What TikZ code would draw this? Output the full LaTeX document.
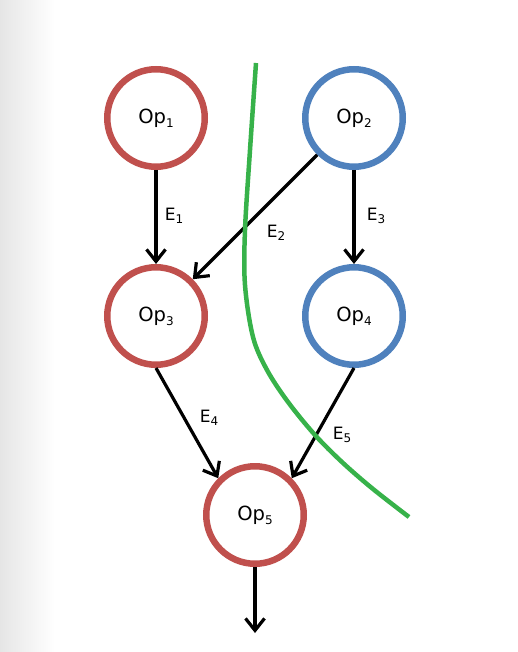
\documentclass[tikz,border=0pt]{standalone}
\usepackage{fontspec}
\setmainfont{DejaVu Sans}
\usetikzlibrary{arrows.meta}
\definecolor{opred}{RGB}{192,80,77}
\definecolor{opblue}{RGB}{79,129,189}
\definecolor{cutgreen}{RGB}{55,178,74}
\newcommand\sbs[1]{\raisebox{-0.2em}{\fontsize{12}{12}\selectfont #1}}
\begin{document}
\begin{tikzpicture}[x=1pt,y=-1pt,
  op/.style={circle, draw, line width=6.5pt, minimum size=97.5pt, inner sep=0pt, font=\fontsize{19.5}{22}\selectfont},
  redop/.style={op, draw=opred},
  blueop/.style={op, draw=opblue},
  edge/.style={line width=3.2pt, -{Straight Barb[length=12pt,width=19pt]}},
  lbl/.style={font=\fontsize{17}{20}\selectfont, inner sep=0pt}]
\useasboundingbox (0,0) rectangle (518,652);
\shade[left color=black!10, right color=white] (0,0) rectangle (55,652);
\node[redop]  (op1) at (156,118) {Op\sbs{1}};
\node[blueop] (op2) at (354,118) {Op\sbs{2}};
\node[redop]  (op3) at (156,316) {Op\sbs{3}};
\node[blueop] (op4) at (354,316) {Op\sbs{4}};
\node[redop]  (op5) at (255,515) {Op\sbs{5}};
\coordinate (out) at (255,633);
\draw[edge] (op1) -- (op3);
\draw[edge] (op2) -- (op4);
\draw[edge] (op2.south west) -- (op3.north east);
\draw[edge] (op3.south) -- (op5.north west);
\draw[edge] (op4.south) -- (op5.north east);
\draw[edge] (op5) -- (out);
\node[lbl] (e1) at (174,216) {E\sbs{1}};
\node[lbl] (e2) at (276,233) {E\sbs{2}};
\node[lbl] (e3) at (376,216) {E\sbs{3}};
\node[lbl] (e4) at (209,418) {E\sbs{4}};
\node[lbl] (e5) at (342,435) {E\sbs{5}};
\draw[cutgreen, line width=4.5pt] plot[smooth, tension=0.55] coordinates {(256,63) (250,150) (245,230) (245,285) (253,337) (267,370) (288,402) (315,435) (343,463) (373,489) (409,517)};
\end{tikzpicture}
\end{document}
